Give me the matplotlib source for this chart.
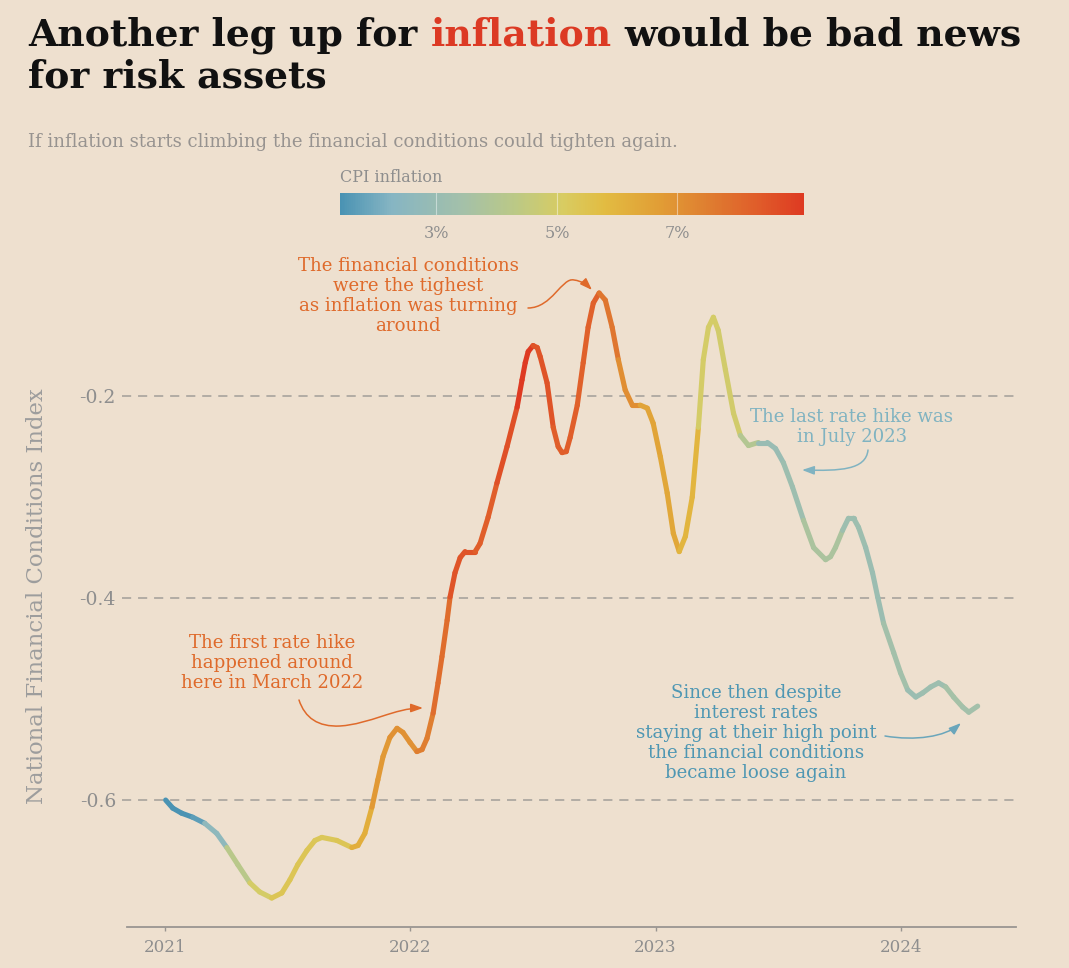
import numpy as np
import pandas as pd
import matplotlib
matplotlib.use('Agg')
import matplotlib.pyplot as plt
import matplotlib.dates as mdates
from matplotlib.collections import LineCollection
from matplotlib.colors import LinearSegmentedColormap, Normalize
from matplotlib.patches import FancyArrowPatch
from matplotlib.path import Path
from matplotlib.transforms import IdentityTransform
import matplotlib.colorbar as mcolorbar

# ---------------- data ----------------
# time in decimal years, NFCI values
years = [2021.004, 2021.033, 2021.069, 2021.114, 2021.163, 2021.212, 2021.253, 2021.298,
         2021.347, 2021.387, 2021.436, 2021.477, 2021.510, 2021.542, 2021.579, 2021.612,
         2021.640, 2021.701, 2021.762, 2021.787, 2021.815, 2021.844, 2021.868, 2021.889,
         2021.917, 2021.946, 2021.970, 2021.999, 2022.027, 2022.048, 2022.068, 2022.093,
         2022.113, 2022.129, 2022.150, 2022.162, 2022.182, 2022.203, 2022.223, 2022.264,
         2022.284, 2022.317, 2022.353, 2022.394, 2022.435, 2022.455, 2022.468, 2022.480,
         2022.500, 2022.517, 2022.529, 2022.557, 2022.582, 2022.602, 2022.618, 2022.635,
         2022.651, 2022.680, 2022.704, 2022.724, 2022.745, 2022.769, 2022.794, 2022.822,
         2022.847, 2022.875, 2022.904, 2022.936, 2022.965, 2022.989, 2023.018, 2023.046,
         2023.071, 2023.095, 2023.120, 2023.148, 2023.173, 2023.193, 2023.214, 2023.234,
         2023.254, 2023.283, 2023.316, 2023.344, 2023.377, 2023.417, 2023.454, 2023.487,
         2023.519, 2023.556, 2023.601, 2023.642, 2023.691, 2023.711, 2023.731, 2023.760,
         2023.784, 2023.805, 2023.825, 2023.854, 2023.882, 2023.903, 2023.927, 2023.968,
         2023.996, 2024.025, 2024.058, 2024.086, 2024.119, 2024.151, 2024.180, 2024.212,
         2024.249, 2024.274, 2024.310]
nfci = [-0.600, -0.608, -0.613, -0.617, -0.623, -0.633, -0.647, -0.664,
        -0.682, -0.691, -0.697, -0.692, -0.679, -0.664, -0.650, -0.640,
        -0.637, -0.640, -0.647, -0.645, -0.633, -0.607, -0.580, -0.557,
        -0.538, -0.529, -0.533, -0.543, -0.552, -0.550, -0.539, -0.514,
        -0.484, -0.458, -0.422, -0.399, -0.375, -0.360, -0.354, -0.354,
        -0.346, -0.320, -0.286, -0.250, -0.211, -0.184, -0.167, -0.156,
        -0.150, -0.152, -0.161, -0.187, -0.231, -0.250, -0.256, -0.255,
        -0.241, -0.209, -0.167, -0.132, -0.108, -0.098, -0.105, -0.132,
        -0.164, -0.194, -0.209, -0.209, -0.212, -0.227, -0.260, -0.296,
        -0.336, -0.354, -0.339, -0.300, -0.231, -0.164, -0.132, -0.122,
        -0.135, -0.174, -0.217, -0.239, -0.249, -0.246, -0.246, -0.252,
        -0.266, -0.290, -0.323, -0.350, -0.362, -0.359, -0.350, -0.333,
        -0.321, -0.321, -0.330, -0.350, -0.375, -0.399, -0.425, -0.454,
        -0.474, -0.491, -0.498, -0.494, -0.488, -0.484, -0.488, -0.498,
        -0.508, -0.513, -0.507]

cpi_start = '2021-01'
cpi = [1.4, 1.7, 2.6, 4.2, 5.0, 5.4, 5.4, 5.3, 5.4, 6.2, 6.8, 7.0,
       7.5, 7.9, 8.5, 8.3, 8.6, 9.1, 8.5, 8.3, 8.2, 7.7, 7.1, 6.5,
       6.4, 6.0, 5.0, 4.9, 4.0, 3.0, 3.2, 3.7, 3.7, 3.2, 3.1, 3.4,
       3.1, 3.2, 3.5, 3.4]

y_ticks = [-0.6, -0.4, -0.2]
y_ticklabels = ['-0.6', '-0.4', '-0.2']
x_years = [2021, 2022, 2023, 2024]
cb_ticks = [3, 5, 7]
cb_ticklabels = ['3%', '5%', '7%']

# ---------------- style ----------------
W, H = 1069, 968
BG = '#eee0cf'
GRAY = '#8e8e8e'
LGRAY = '#9d9d9d'
GRID = '#a29e99'
ORANGE = '#df6a2b'
TEAL = '#4f97b3'
LTEAL = '#80b3c1'
RED = '#dc3a24'
FONT = 'DejaVu Serif'

plt.rcParams['font.family'] = [FONT]

cmap = LinearSegmentedColormap.from_list('cpi', [
    (0.00, '#4a93b3'), (0.11, '#86b5c3'), (0.26, '#a3c0aa'), (0.38, '#bcc985'),
    (0.48, '#d8cc62'), (0.57, '#e2bc42'), (0.68, '#e1a036'), (0.80, '#df7c30'),
    (0.90, '#e05d2a'), (1.00, '#de3a22')])
norm = Normalize(vmin=min(cpi), vmax=max(cpi))

fig = plt.figure(figsize=(W / 100, H / 100), dpi=100, facecolor=BG)


def fx(px):
    return px / W


def fy(py):
    return 1 - py / H


ax = fig.add_axes([fx(127), fy(927), fx(1016) - fx(127), fy(250) - fy(927)])
ax.set_facecolor(BG)

# ---------------- line ----------------
yrs = np.array(years)
dts = pd.Timestamp('2021-01-01') + pd.to_timedelta((yrs - 2021) * 365.25, unit='D')
x = mdates.date2num(dts)
y = np.array(nfci)
pts = np.column_stack([x, y]).reshape(-1, 1, 2)
segs = np.concatenate([pts[:-1], pts[1:]], axis=1)
seg_start = pd.DatetimeIndex(dts[:-1])
start = pd.Period(cpi_start, 'M')
midx = np.array([(pd.Period(d, 'M') - start).n for d in seg_start])
midx = np.clip(midx, 0, len(cpi) - 1)
seg_vals = np.array(cpi)[midx]
lc = LineCollection(segs, colors=cmap(norm(seg_vals)), linewidths=3.7,
                    capstyle='round', joinstyle='round', zorder=3)
ax.add_collection(lc)

ax.set_xlim(mdates.date2num(pd.Timestamp('2020-11-06')), mdates.date2num(pd.Timestamp('2024-06-20')))
ax.set_ylim(-0.7257, -0.0554)

for v in y_ticks:
    ax.axhline(v, xmin=-0.006, color=GRID, lw=1.1, ls=(0, (6, 4.5)), clip_on=False, zorder=1)

for s in ['top', 'right', 'left']:
    ax.spines[s].set_visible(False)
ax.spines['bottom'].set_color('#999591')
ax.spines['bottom'].set_linewidth(1.3)

ax.set_yticks(y_ticks)
ax.set_yticklabels(y_ticklabels)
ax.tick_params(axis='y', length=0, pad=8, labelsize=13.5, labelcolor=GRAY)
ax.set_xticks([mdates.date2num(pd.Timestamp(f'{yr}-01-01')) for yr in x_years])
ax.set_xticklabels([str(yr) for yr in x_years])
ax.tick_params(axis='x', length=3, width=1, color='#999591', pad=6, labelsize=12, labelcolor=GRAY)

fig.text(fx(37), fy(596), 'National Financial Conditions Index', rotation=90,
         ha='center', va='center', color=LGRAY, fontsize=16.4)

# ---------------- title ----------------
r = fig.canvas.get_renderer()


def twidth(s, **kw):
    t = fig.text(0, 0, s, **kw)
    w = t.get_window_extent(r).width
    t.remove()
    return w


line1 = 'Another leg up for inflation would be bad news'
tkw = dict(fontweight='bold', fontsize=30)
scale = 994 / twidth(line1, **tkw)
tkw['fontsize'] = 30 * scale
p1 = 'Another leg up for'
p2 = 'inflation'
p3 = 'would be bad news'
x0 = 28
x2 = x0 + twidth(p1 + ' ' + p2, **tkw) - twidth(p2, **tkw)
x3 = x0 + twidth(line1, **tkw) - twidth(p3, **tkw)
fig.text(fx(x0), fy(45), p1, color='#111111', va='baseline', **tkw)
fig.text(fx(x2), fy(45), p2, color=RED, va='baseline', **tkw)
fig.text(fx(x3), fy(45), p3, color='#111111', va='baseline', **tkw)
fig.text(fx(x0), fy(88), 'for risk assets', color='#111111', va='baseline', **tkw)

sub = 'If inflation starts climbing the financial conditions could tighten again.'
skw = dict(fontsize=12)
skw['fontsize'] = 12 * 642 / twidth(sub, **skw)
fig.text(fx(28), fy(147), sub, color='#979390', va='baseline', **skw)

# ---------------- colorbar ----------------
cax = fig.add_axes([fx(340), fy(215), fx(804) - fx(340), fy(193) - fy(215)])
cb = mcolorbar.ColorbarBase(cax, cmap=cmap, norm=norm, orientation='horizontal')
cb.outline.set_visible(False)
cb.set_ticks(cb_ticks)
cb.set_ticklabels(cb_ticklabels)
cax.tick_params(length=0, pad=7, labelsize=11.5, labelcolor=GRAY)
for v in cb_ticks:
    cax.axvline(v, color='white', lw=0.8, alpha=0.45)
fig.text(fx(340), fy(177), 'CPI inflation', color=GRAY, fontsize=11.5, va='center', ha='left')

# ---------------- annotations ----------------
akw = dict(fontsize=13.1, ha='center', va='center', multialignment='center', linespacing=1.16)
fig.text(fx(408), fy(296), 'The financial conditions\nwere the tighest\nas inflation was turning\naround',
         color=ORANGE, **akw)
fig.text(fx(272), fy(663), 'The first rate hike\nhappened around\nhere in March 2022',
         color=ORANGE, **akw)
fig.text(fx(852), fy(427), 'The last rate hike was\nin July 2023', color=LTEAL, **akw)
fig.text(fx(756), fy(733), 'Since then despite\ninterest rates\nstaying at their high point\nthe financial conditions\nbecame loose again',
         color=TEAL, **akw)


def arrow(points, color):
    verts = [(px, H - py) for px, py in points]
    codes = [Path.MOVETO] + [Path.CURVE4] * (len(verts) - 1)
    p = FancyArrowPatch(path=Path(verts, codes), arrowstyle='-|>,head_length=0.9,head_width=0.32',
                        mutation_scale=8, color=color, lw=1.1, transform=IdentityTransform())
    fig.add_artist(p)


arrow([(528, 308), (552, 308), (562, 277), (574, 280), (582, 281), (587, 285), (592, 290)], ORANGE)
arrow([(299, 700), (305, 718), (318, 727), (340, 726), (370, 724), (395, 708), (423, 708)], ORANGE)
arrow([(868, 450), (866, 470), (840, 471), (802, 470)], LTEAL)
arrow([(885, 736), (915, 741), (945, 737), (961, 723)], '#6aa6bb')

fig.savefig('out.png', dpi=100, facecolor=BG)
